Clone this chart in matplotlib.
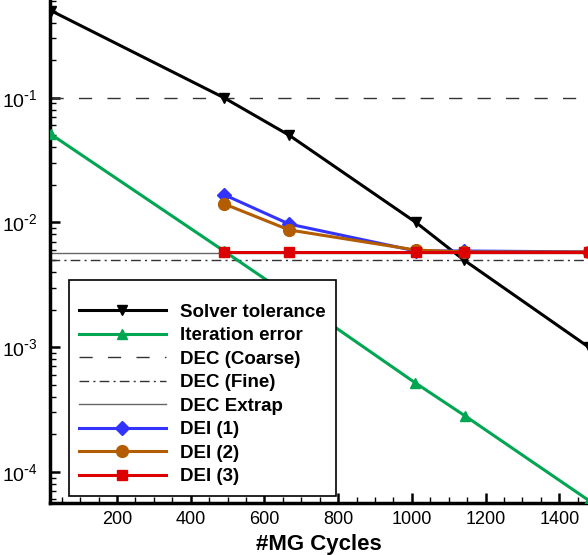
import matplotlib
matplotlib.use("Agg")
import matplotlib.pyplot as plt
from matplotlib.ticker import MultipleLocator, LogLocator, NullFormatter, FuncFormatter
import numpy as np

plt.rcParams['font.family'] = ['Liberation Sans', 'DejaVu Sans']
plt.rcParams['mathtext.default'] = 'regular'

# Convergence data versus multigrid cycles
solver_x = [20, 490, 667, 1011, 1141, 1480]
solver_tol = [0.5, 0.1, 0.05, 0.01, 0.005, 0.001]

iter_x = [20, 490, 667, 1008, 1145, 1480]
iter_err = [0.051, 0.0059, 0.0026, 5.2e-4, 2.8e-4, 5.9e-5]

dec_coarse = 0.1
dec_fine = 0.005
dec_extrap = 0.0057

dei_x = [490, 667, 1011, 1141, 1480]
dei1 = [0.0167, 0.0097, 0.0059, 0.0059, 0.0058]
dei2 = [0.0141, 0.0087, 0.0060, 0.0058, 0.0058]
dei3 = [0.00575, 0.00575, 0.00575, 0.00575, 0.00575]

xticks = [200, 400, 600, 800, 1000, 1200, 1400]

fig = plt.figure(figsize=(5.88, 5.55), dpi=100)
ax = fig.add_axes([50 / 588, 52 / 555, 538 / 588, 503 / 555])

ax.plot(solver_x, solver_tol, color='black', lw=2.2, marker='v', ms=7,
        label='Solver tolerance', zorder=5)
ax.plot(iter_x, iter_err, color='#00a651', lw=2.2, marker='^', ms=7,
        label='Iteration error', zorder=5)
ax.axhline(dec_coarse, color='#333333', lw=1.0, dashes=(9.5, 11), label='DEC (Coarse)')
ax.axhline(dec_fine, color='#333333', lw=1.0, dashes=(7, 3, 1.5, 3), label='DEC (Fine)')
ax.axhline(dec_extrap, color='#666666', lw=1.0, label='DEC Extrap')
ax.plot(dei_x, dei1, color='#3333ff', lw=2.2, marker='D', ms=7, label='DEI (1)', zorder=6)
ax.plot(dei_x, dei2, color='#b35c00', lw=2.2, marker='o', ms=8.5, label='DEI (2)', zorder=7)
ax.plot(dei_x, dei3, color='#dd0000', lw=2.2, marker='s', ms=7.5, label='DEI (3)', zorder=8)

ax.set_yscale('log')
ax.set_xlim(18, 1478)
ax.set_ylim(10 ** -4.25, 10 ** (-1 + 97.7 / 124.7))

ax.set_xticks(xticks)
ax.xaxis.set_minor_locator(MultipleLocator(50))
ax.yaxis.set_major_locator(LogLocator(base=10, numticks=10))
ax.yaxis.set_minor_locator(LogLocator(base=10, subs=range(2, 10), numticks=20))
ax.yaxis.set_minor_formatter(NullFormatter())


def decade_label(v, pos):
    n = int(round(np.log10(v)))
    return r'$10^{\text{-}%d}$' % (-n) if n < 0 else r'$10^{%d}$' % n


ax.yaxis.set_major_formatter(FuncFormatter(decade_label))

for s in ('top', 'right'):
    ax.spines[s].set_visible(False)
for s in ('left', 'bottom'):
    ax.spines[s].set_linewidth(2.5)

ax.tick_params(which='major', direction='in', length=7.5, width=1.8, colors='black')
ax.tick_params(which='minor', direction='in', length=4.5, width=1.0)
ax.tick_params(axis='y', which='major', pad=9, labelsize=14)
ax.tick_params(axis='x', which='major', pad=6, labelsize=13)

ax.set_xlabel('#MG Cycles', fontsize=16, fontweight='bold', labelpad=4)

leg = ax.legend(loc='upper left', bbox_to_anchor=(69 / 588, 1 - 280 / 555),
                bbox_transform=fig.transFigure, borderaxespad=0,
                fancybox=False, framealpha=1, edgecolor='black',
                prop={'weight': 'bold', 'size': 13.5}, handlelength=4.6,
                handletextpad=0.75, labelspacing=0.34, borderpad=0.55,
                title=' ', title_fontsize=5)
leg.get_frame().set_linewidth(1.2)

fig.savefig('out.png', dpi=100)
